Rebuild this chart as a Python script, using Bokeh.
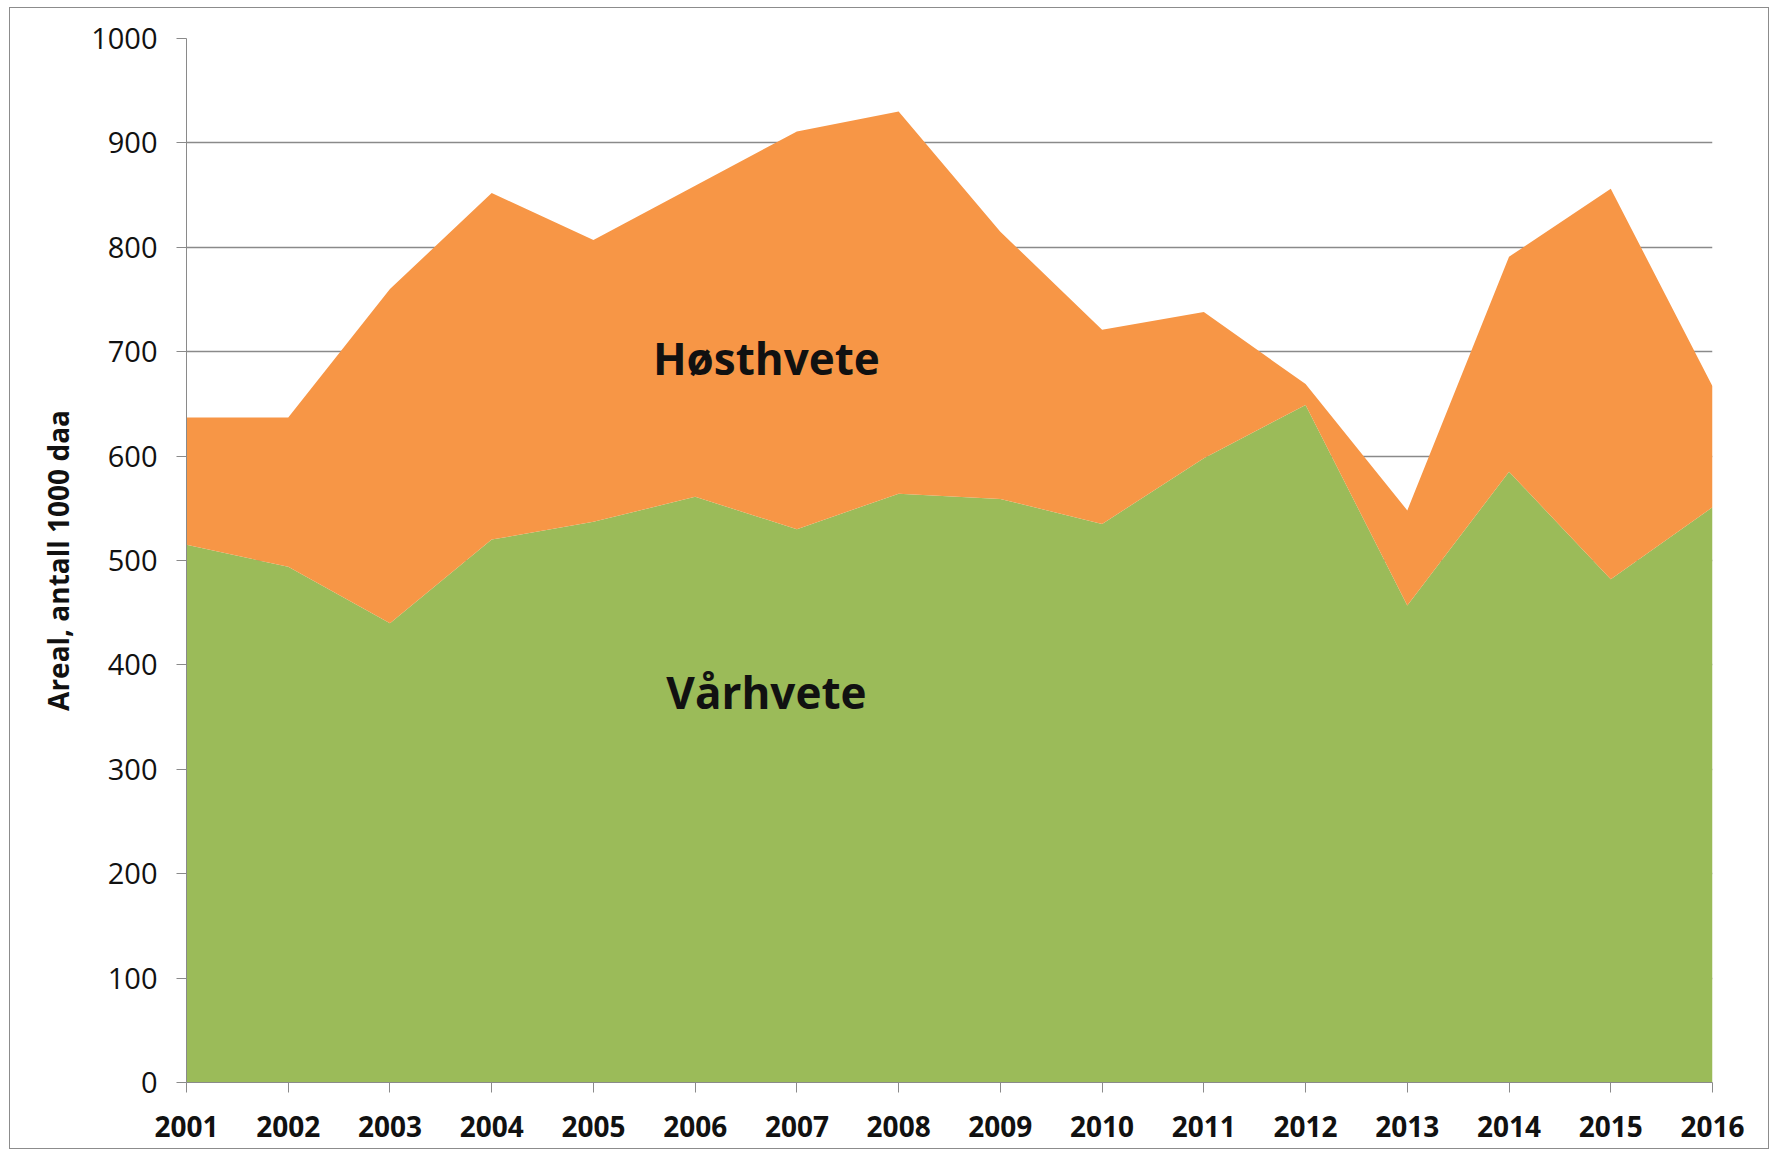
from bokeh.plotting import figure
from bokeh.models import ColumnDataSource, FixedTicker
from bokeh.core.properties import value
from bokeh.embed import file_html
from bokeh.resources import INLINE

years = list(range(2001, 2017))
varhvete = [515, 494, 440, 520, 537, 561, 530, 564, 559, 535, 598, 649, 457, 585, 482, 551]
hosthvete = [122, 143, 320, 332, 270, 298, 381, 366, 256, 186, 140, 20, 91, 206, 374, 116]
series_names = ["varhvete", "hosthvete"]
series_labels = ["Vårhvete", "Høsthvete"]
series_colors = ["#9BBB59", "#F79646"]
y_ticks = [0, 100, 200, 300, 400, 500, 600, 700, 800, 900, 1000]
y_title = "Areal, antall 1000 daa"

source = ColumnDataSource(dict(year=years, varhvete=varhvete, hosthvete=hosthvete))

p = figure(width=1760, height=1142, output_backend="svg", toolbar_location=None,
           x_range=(2001, 2016), y_range=(0, 1000),
           min_border_left=176, min_border_right=58, min_border_top=30, min_border_bottom=68)
p.styles = {"border": "1px solid #8c8c8c", "margin": "7px 0 0 9px"}
p.outline_line_color = None
p.background_fill_color = "white"
p.border_fill_color = "white"

p.varea_stack(stackers=series_names, x="year", color=series_colors, source=source)

# grid
p.xgrid.grid_line_color = None
p.ygrid.grid_line_color = "#8a8a8a"
p.ygrid.grid_line_width = 1.3
p.ygrid.ticker = FixedTicker(ticks=y_ticks[1:])

# y axis
p.yaxis.ticker = FixedTicker(ticks=y_ticks)
p.yaxis.axis_line_color = "#8a8a8a"
p.yaxis.major_tick_line_color = "#8a8a8a"
p.yaxis.major_tick_out = 10
p.yaxis.major_tick_in = 0
p.yaxis.minor_tick_line_color = None
p.yaxis.major_label_text_font = "Open Sans"
p.yaxis.major_label_text_font_size = "29px"
p.yaxis.major_label_text_color = "#111111"
p.yaxis.major_label_standoff = 19
p.yaxis.axis_label = y_title
p.yaxis.axis_label_text_font = "Open Sans"
p.yaxis.axis_label_text_font_style = "bold"
p.yaxis.axis_label_text_font_size = "28px"
p.yaxis.axis_label_text_color = "#111111"
p.yaxis.axis_label_standoff = 11

# x axis
p.xaxis.ticker = FixedTicker(ticks=years)
p.xaxis.axis_line_color = "#8a8a8a"
p.xaxis.major_tick_line_color = "#8a8a8a"
p.xaxis.major_tick_out = 10
p.xaxis.major_tick_in = 0
p.xaxis.minor_tick_line_color = None
p.xaxis.major_label_text_font = "Open Sans"
p.xaxis.major_label_text_font_style = "bold"
p.xaxis.major_label_text_font_size = "28px"
p.xaxis.major_label_text_color = "#111111"
p.xaxis.major_label_standoff = 23

# series labels inside the areas
p.text(x=[2006.7, 2006.7], y=[694, 374], text=[series_labels[1], series_labels[0]],
       text_font=value("Open Sans"), text_font_style="bold", text_font_size="44px",
       text_align="center", text_baseline="middle", text_color="#111111")

open("out.html", "w").write(file_html(p, INLINE))
